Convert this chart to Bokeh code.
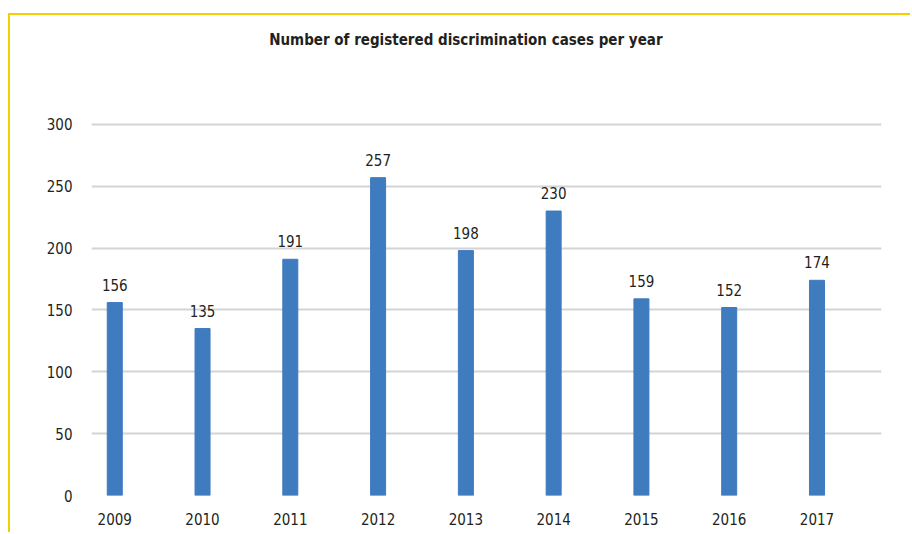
from bokeh.plotting import figure
from bokeh.models import ColumnDataSource, FixedTicker, Range1d, Label
from bokeh.core.properties import value
from bokeh.embed import file_html
from bokeh.resources import INLINE

years = [2009, 2010, 2011, 2012, 2013, 2014, 2015, 2016, 2017]
cases = [156, 135, 191, 257, 198, 230, 159, 152, 174]
y_ticks = [0, 50, 100, 150, 200, 250, 300]
title_text = "Number of registered discrimination cases per year"

FONT = "DejaVu Sans Condensed"
TXT = "#231f20"
GRID = "#d4d4d4"
BAR = "#3e7bbf"
YELLOW = "#f5cd00"

src = ColumnDataSource(dict(year=years, cases=cases, label=[str(c) for c in cases]))

# the value axis runs above 300 so that the title fits in the frame's head room
Y_TOP = 388.1
p = figure(width=902, height=519,
           x_range=Range1d(years[0] - 0.265, years[-1] + 0.735),
           y_range=Range1d(0, Y_TOP),
           output_backend="svg", toolbar_location=None,
           min_border_left=81, min_border_right=31, min_border_top=0, min_border_bottom=39)
p.styles = {"margin-left": "8px", "margin-top": "13px",
            "border-top": f"2px solid {YELLOW}", "border-left": f"2px solid {YELLOW}"}

p.add_layout(Label(x=(years[0] + years[-1]) / 2, y=Y_TOP - 20.2, text=title_text,
                   text_align="center", text_baseline="middle",
                   text_font=FONT, text_font_size="15px", text_font_style="bold",
                   text_color=TXT))

p.vbar(x="year", top="cases", width=0.171, source=src, color=BAR)
p.text(x="year", y="cases", text="label", source=src, text_align="center",
       text_baseline="alphabetic", y_offset=-18, text_font=value(FONT),
       text_font_size="15px", text_color=TXT)

p.outline_line_color = None
p.xgrid.grid_line_color = None
p.ygrid.grid_line_color = GRID
p.ygrid.grid_line_width = 2
p.yaxis.ticker = FixedTicker(ticks=y_ticks)
p.xaxis.ticker = FixedTicker(ticks=years)

for ax in (p.xaxis, p.yaxis):
    ax.axis_line_color = None
    ax.major_tick_line_color = None
    ax.minor_tick_line_color = None
    ax.major_label_text_font = FONT
    ax.major_label_text_font_size = "15px"
    ax.major_label_text_color = TXT
p.xaxis.major_label_standoff = 11
p.yaxis.major_label_standoff = 13

open("out.html", "w").write(file_html(p, INLINE))
